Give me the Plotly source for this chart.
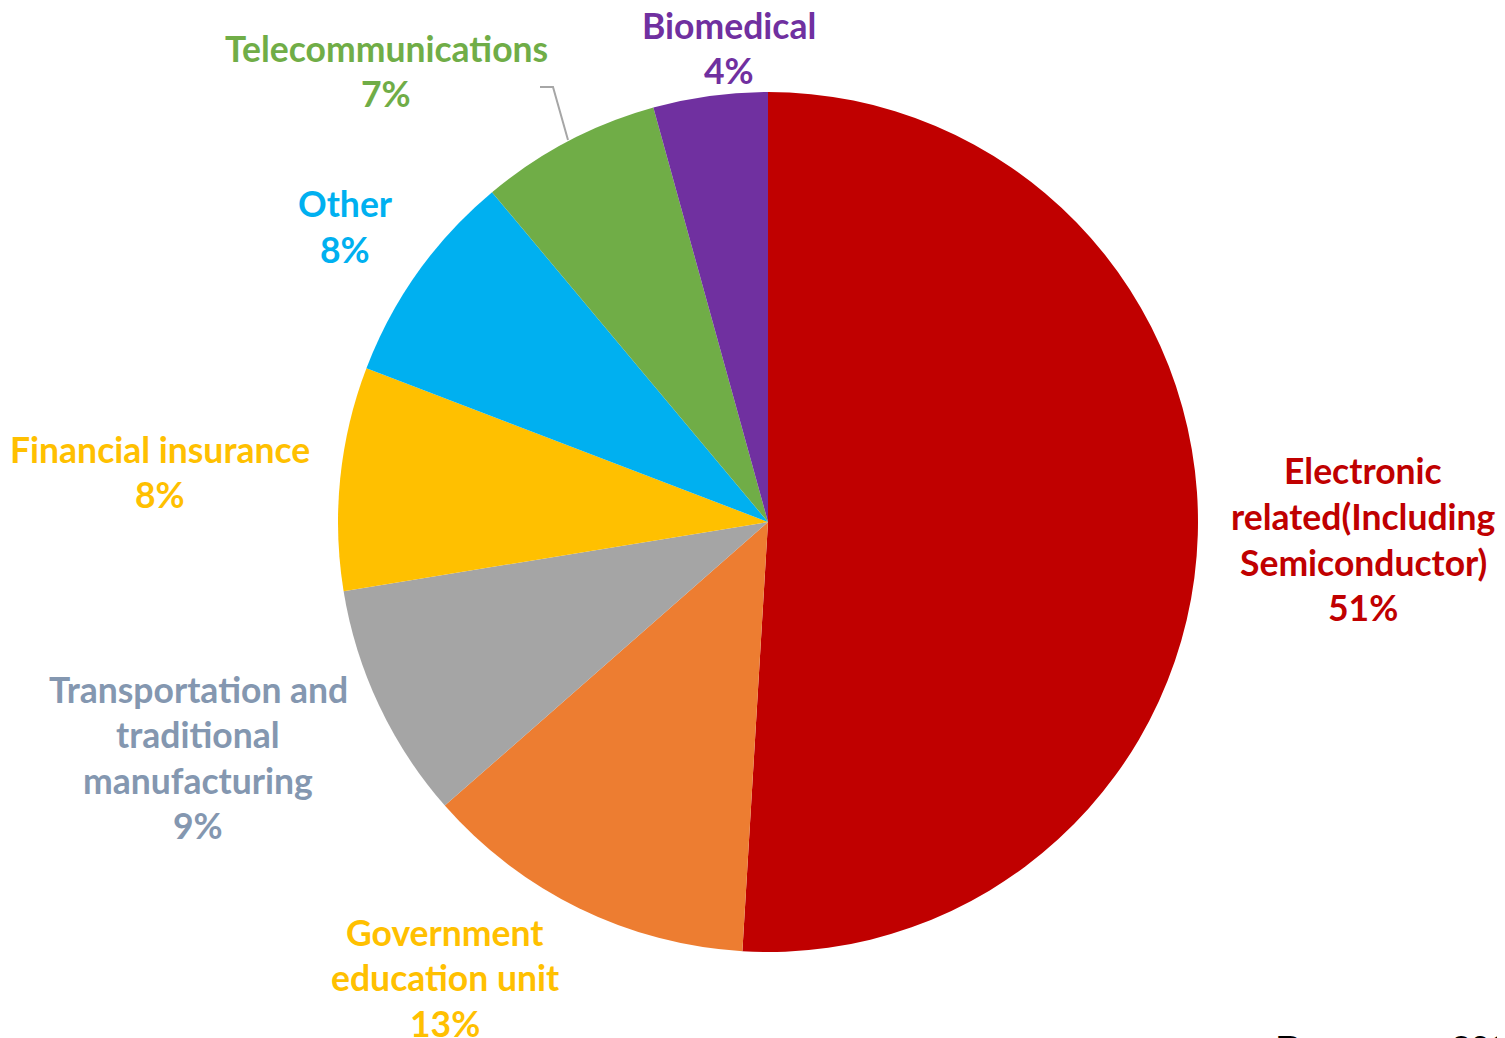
import plotly.graph_objects as go

categories = ["Electronic<br>related(Including<br>Semiconductor)", "Government<br>education unit",
              "Transportation and<br>traditional<br>manufacturing", "Financial insurance",
              "Other", "Telecommunications", "Biomedical"]
values = [51.0, 12.6, 8.9, 8.4, 8.1, 6.8, 4.3]
slice_colors = ["#C00000", "#ED7D31", "#A5A5A5", "#FFC000", "#00B0F0", "#70AD47", "#7030A0"]
label_colors = ["#C00000", "#FFC000", "#8497B0", "#FFC000", "#00B0F0", "#70AD47", "#7030A0"]
# label anchor (pixel x center, pixel y of first line)
label_pos = [(1363, 471), (445, 932), (198, 689), (160, 449), (345, 204), (386, 48), (729, 25)]

W, H = 1505, 1038
OFF = 8  # page offset of the rendered figure
cx, cy, r = 768, 522, 430


def px(x):
    return (x - OFF) / W


def py(y):
    return 1 - (y - OFF) / H


fig = go.Figure(go.Pie(
    labels=[c.replace("<br>", " ") for c in categories],
    values=values,
    marker=dict(colors=slice_colors, line=dict(width=0)),
    sort=False, direction="clockwise", rotation=0,
    textinfo="none", hoverinfo="label+percent",
    domain=dict(x=[px(cx - r), px(cx + r)], y=[py(cy + r), py(cy - r)]),
    showlegend=False,
))

total = sum(values)
LINE = 45.5
ann = []
for cat, v, col, (lx, ly) in zip(categories, values, label_colors, label_pos):
    lines = cat.split("<br>") + [f"{round(v / total * 100)}%"]
    for i, ln in enumerate(lines):
        ann.append(dict(x=px(lx), y=py(ly + i * LINE), xref="paper", yref="paper",
                        text=f"<b>{ln}</b>", showarrow=False, xanchor="center", yanchor="middle",
                        font=dict(family="Lato", size=35.5, color=col)))

ann.append(dict(x=px(1274), y=py(1026), xref="paper", yref="paper", text="<b>Resource: 2017</b>",
                showarrow=False, xanchor="left", yanchor="top",
                font=dict(family="Liberation Sans", size=34, color="#000000")))

fig.add_shape(type="path", xref="paper", yref="paper",
              path=f"M {px(540)} {py(87)} L {px(553)} {py(87)} L {px(568)} {py(140)}",
              line=dict(color="#A6A6A6", width=2))

fig.update_layout(width=W, height=H, margin=dict(l=0, r=0, t=0, b=0),
                  paper_bgcolor="white", plot_bgcolor="white", annotations=ann)

fig.write_html("out.html")
